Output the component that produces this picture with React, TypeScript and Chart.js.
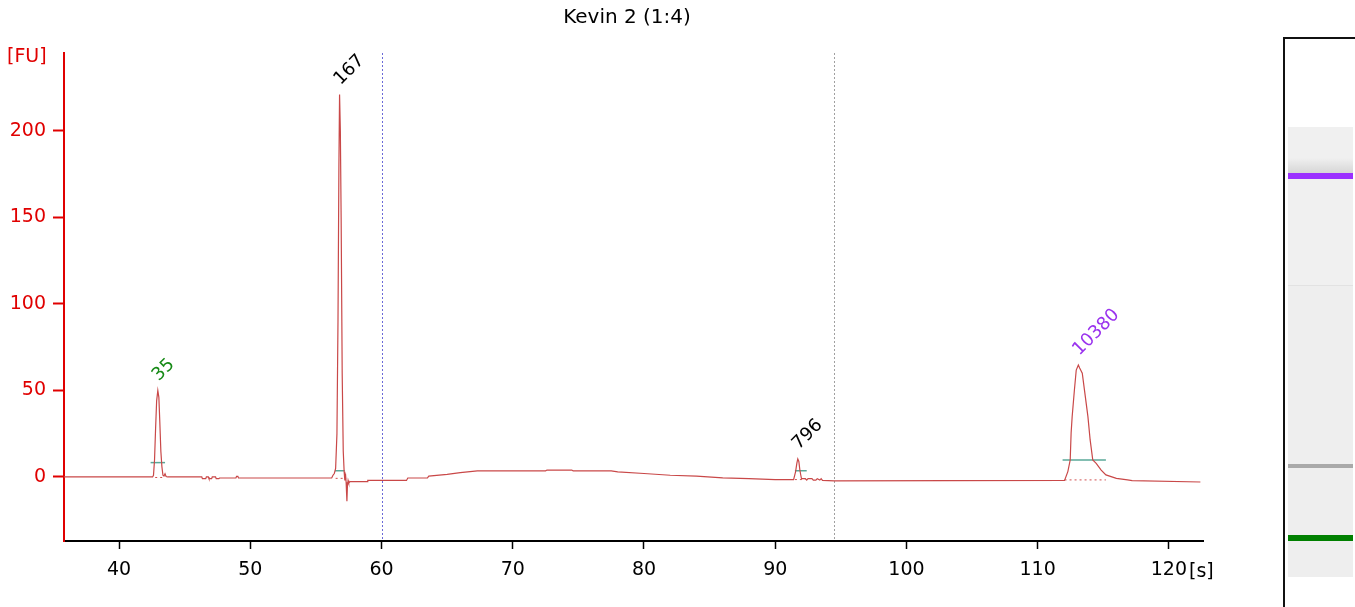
import React, { useEffect, useRef } from "react";
import { Chart, registerables } from "chart.js";

Chart.register(...registerables);

const chartTitle = "Kevin 2 (1:4)";
const yUnit = "[FU]";
const xUnit = "[s]";

const xMin = 35.8;
const xMax = 122.6;
const yMin = -37;
const yMax = 245;
const xTicks = [40, 50, 60, 70, 80, 90, 100, 110, 120];
const yTicks = [0, 50, 100, 150, 200];

// electropherogram trace (time in s, fluorescence in FU)
const traceTime = [
  35.8, 42.55, 42.62, 42.7, 42.78, 42.86, 42.95, 43.03, 43.1, 43.18, 43.26, 43.34, 43.42, 43.5, 43.58, 43.7,
  46.3, 46.35, 46.6, 46.65, 46.8, 46.85, 47.05, 47.1, 47.35, 47.4, 47.6, 47.65, 48.9, 48.95, 49.05, 49.1,
  56.2, 56.3, 56.4, 56.5, 56.6, 56.68, 56.75, 56.8, 56.86, 56.92, 57.0, 57.08, 57.15, 57.2, 57.25, 57.3,
  57.36, 57.4, 57.45, 57.5, 57.6, 58.9, 58.95, 61.9, 62.0, 63.5, 63.6, 65.0, 66.0, 67.3, 72.5, 72.6, 74.5,
  74.6, 77.5, 78.0, 80.0, 82.0, 84.0, 86.0, 88.0, 90.0, 91.4, 91.55, 91.65, 91.72, 91.8, 91.88, 91.95, 92.0,
  92.3, 92.4, 92.5, 92.8, 92.9, 93.1, 93.2, 93.4, 93.5, 93.6, 94.5, 112.05, 112.3, 112.48, 112.55, 112.63,
  112.8, 112.94, 113.1, 113.2, 113.4, 113.57, 113.83, 114.0, 114.2, 114.46, 114.84, 115.2, 116.0, 116.85,
  117.2, 122.4,
];
const traceFU = [
  0, 0, 1, 10, 28, 44, 50, 46, 32, 15, 6, 1, 0.5, 1.8, 0.3, 0,
  0, -1, -1, 0, 0, -1, -1, 0, 0, -1, -1, -0.6, -0.6, 0.3, 0.3, -0.6,
  -0.6, 1, 2, 5, 25, 90, 180, 221, 200, 150, 60, 15, 3, -2, 2, -3,
  -14, -5, -2, -3.5, -2.7, -2.7, -2, -2, -0.6, -0.5, 0.5, 1.5, 2.5, 3.5, 3.5, 4, 4,
  3.5, 3.5, 3, 2, 1, 0.5, -0.5, -1, -1.5, -1.5, 3, 8, 10.4, 9, 4, 1, -1,
  -1, -1.8, -1, -1, -1.8, -1.8, -1, -1.8, -1, -2, -2.2, -2, 3.1, 9.8, 25.4, 34.9,
  50.3, 61.8, 64.7, 63, 60, 50, 34.9, 21.4, 9.8, 7.9, 4, 1.2, -0.8, -1.7,
  -2.1, -2.9,
];

// peaks
const peakTime = [42.95, 56.8, 91.72, 113.1];
const peakHeight = [50, 221, 10.4, 64.7];
const peakLabel = ["35", "167", "796", "10380"];
const peakColor = ["#178a17", "#000000", "#000000", "#9a33ee"];
const markerStart = [42.4, 56.45, 91.5, 111.9];
const markerEnd = [43.5, 57.2, 92.4, 115.2];
const markerLevel = [8.3, 3.6, 3.6, 9.8];
const baseStart = [42.75, 56.5, 91.5, 112.05];
const baseEnd = [43.5, 57.3, 92.3, 115.2];
const baseLevel = [-0.3, -0.8, -1.5, -1.7];

// vertical reference lines
const refLineTime = [60, 94.5];
const refLineColor = ["#6a6ad8", "#a0a0a0"];

// gel lane bands
const gelBandTop = [173, 464, 535];
const gelBandHeight = [6, 4, 6];
const gelBandColor = ["#9b30ff", "#a9a9a9", "#008000"];

const FONT = '"DejaVu Sans", sans-serif';

const overlay = {
  id: "overlay",
  beforeDatasetsDraw(chart: any) {
    const { ctx, chartArea } = chart;
    const xs = chart.scales.x;
    ctx.save();
    ctx.lineWidth = 1;
    refLineTime.forEach((t, i) => {
      const px = Math.round(xs.getPixelForValue(t)) + 0.5;
      ctx.strokeStyle = refLineColor[i];
      ctx.setLineDash([2, 2]);
      ctx.beginPath();
      ctx.moveTo(px, chartArea.top);
      ctx.lineTo(px, chartArea.bottom);
      ctx.stroke();
    });
    ctx.restore();
  },
  afterDraw(chart: any) {
    const { ctx } = chart;
    const xs = chart.scales.x;
    const ys = chart.scales.y;
    ctx.save();
    ctx.font = `20px ${FONT}`;
    ctx.fillStyle = "#000";
    ctx.textAlign = "center";
    ctx.textBaseline = "middle";
    ctx.fillText(chartTitle, 627, 18);

    ctx.font = `19px ${FONT}`;
    ctx.fillStyle = "#e00000";
    ctx.textAlign = "left";
    ctx.fillText(yUnit, 7, 57);

    ctx.fillStyle = "#000";
    ctx.fillText(xUnit, 1189, 572);

    ctx.font = `18px ${FONT}`;
    ctx.textBaseline = "alphabetic";
    peakTime.forEach((t, i) => {
      const px = xs.getPixelForValue(t);
      const py = ys.getPixelForValue(peakHeight[i]);
      ctx.save();
      ctx.translate(px + 1, py - 9);
      ctx.rotate(-Math.PI / 4);
      ctx.fillStyle = peakColor[i];
      ctx.fillText(peakLabel[i], 0, 0);
      ctx.restore();
    });
    ctx.restore();
  },
};

export default function App() {
  const ref = useRef<HTMLCanvasElement>(null);
  useEffect(() => {
    const datasets: any[] = [
      {
        data: traceTime.map((t, i) => ({ x: t, y: traceFU[i] })),
        borderColor: "#c94848",
        borderWidth: 1.2,
        pointRadius: 0,
        tension: 0,
      },
    ];
    peakTime.forEach((_, i) => {
      datasets.push({
        data: [
          { x: markerStart[i], y: markerLevel[i] },
          { x: markerEnd[i], y: markerLevel[i] },
        ],
        borderColor: "#5aa898",
        borderWidth: 1.5,
        pointRadius: 0,
      });
      datasets.push({
        data: [
          { x: baseStart[i], y: baseLevel[i] },
          { x: baseEnd[i], y: baseLevel[i] },
        ],
        borderColor: "#d05050",
        borderWidth: 1,
        borderDash: [2, 3],
        pointRadius: 0,
      });
    });
    const chart = new Chart(ref.current!, {
      type: "line",
      data: { datasets },
      options: {
        animation: false,
        responsive: false,
        devicePixelRatio: 1,
        layout: { padding: { top: 53, right: 152, left: 0, bottom: 0 } },
        plugins: { legend: { display: false }, tooltip: { enabled: false }, title: { display: false } },
        scales: {
          x: {
            type: "linear",
            min: xMin,
            max: xMax,
            afterBuildTicks: (s: any) => {
              s.ticks = xTicks.map((v) => ({ value: v }));
            },
            afterFit: (s: any) => {
              s.height = 66;
            },
            grid: {
              display: true,
              drawOnChartArea: false,
              drawTicks: true,
              tickLength: 8,
              tickColor: "#000",
              tickWidth: 1.5,
            },
            border: { display: true, color: "#000", width: 2 },
            ticks: {
              color: "#000",
              font: { family: FONT, size: 19 },
              padding: 10,
              maxRotation: 0,
              autoSkip: false,
            },
          },
          y: {
            type: "linear",
            min: yMin,
            max: yMax,
            afterBuildTicks: (s: any) => {
              s.ticks = yTicks.map((v) => ({ value: v }));
            },
            afterFit: (s: any) => {
              s.width = 64;
            },
            grid: {
              display: true,
              drawOnChartArea: false,
              drawTicks: true,
              tickLength: 11,
              tickColor: "#e00000",
              tickWidth: 2,
            },
            border: { display: true, color: "#e00000", width: 2 },
            ticks: {
              color: "#e00000",
              font: { family: FONT, size: 19 },
              padding: 7,
              autoSkip: false,
            },
          },
        },
      },
      plugins: [overlay],
    } as any);
    return () => chart.destroy();
  }, []);

  return (
    <div
      style={{
        position: "fixed",
        left: 0,
        top: 0,
        width: 1355,
        height: 607,
        background: "#fff",
        overflow: "hidden",
      }}
    >
      <canvas
        ref={ref}
        width={1355}
        height={607}
        style={{ position: "absolute", left: 0, top: 0, width: 1355, height: 607 }}
      />
      <div style={{ position: "absolute", left: 1283, top: 37, width: 2, height: 570, background: "#111" }} />
      <div style={{ position: "absolute", left: 1283, top: 37, width: 72, height: 2, background: "#111" }} />
      <div style={{ position: "absolute", left: 1288, top: 127, width: 65, height: 158, background: "#f0f0f0" }} />
      <div
        style={{
          position: "absolute",
          left: 1288,
          top: 158,
          width: 65,
          height: 15,
          background: "linear-gradient(#f0f0f0, #d6d6d6)",
        }}
      />
      <div style={{ position: "absolute", left: 1288, top: 285, width: 65, height: 1, background: "#e2e2e2" }} />
      <div style={{ position: "absolute", left: 1288, top: 286, width: 65, height: 291, background: "#eeeeee" }} />
      {gelBandTop.map((t, i) => (
        <div
          key={i}
          style={{
            position: "absolute",
            left: 1288,
            top: t,
            width: 65,
            height: gelBandHeight[i],
            background: gelBandColor[i],
          }}
        />
      ))}
    </div>
  );
}
